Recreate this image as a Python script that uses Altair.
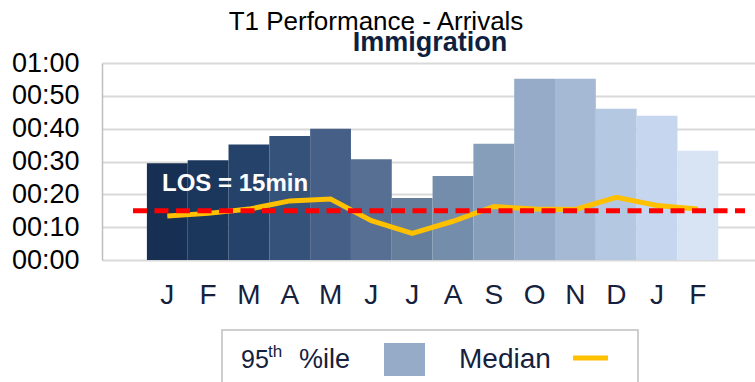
import altair as alt
import pandas as pd

# ---- data ----
month_labels = ["J", "F", "M", "A", "M", "J", "J", "A", "S", "O", "N", "D", "J", "F"]
p95_minutes = [29.5, 30.4, 35.2, 37.8, 40.0, 30.7, 18.9, 25.6, 35.4, 55.2, 55.2, 46.1, 43.9, 33.3]
median_minutes = [13.4, 14.2, 15.5, 18.0, 18.6, 12.0, 8.1, 11.8, 16.3, 15.5, 15.4, 19.1, 16.6, 15.5]
los_minutes = 15
y_ticks = [0, 10, 20, 30, 40, 50, 60]

title_main = "T1 Performance - Arrivals"
title_sub = "Immigration"
legend_p95 = ["95", "th", "%ile"]
legend_median = "Median"

# ---- styles ----
bar_colors = ["#172F52", "#1B375C", "#24426A", "#35527A", "#455F86", "#566F92", "#647E9C",
              "#748DAA", "#879EBB", "#95ABC8", "#A5B9D5", "#B5C8E2", "#C5D6EE", "#D8E3F3"]
FONT = "Liberation Sans"
NAVY = "#15213D"

df = pd.DataFrame({
    "idx": list(range(len(month_labels))),
    "p95": p95_minutes,
    "median": median_minutes,
})

label_array = "[" + ",".join("'" + m + "'" for m in month_labels) + "]"

x_enc = alt.X(
    "idx:O",
    scale=alt.Scale(paddingInner=0, paddingOuter=1.0, align=0.55),
    axis=alt.Axis(
        title=None, labelExpr=label_array + "[datum.value]", labelAngle=0,
        labelFontSize=28, labelFont=FONT, labelColor=NAVY, labelPadding=21,
        ticks=False, domain=False, grid=False, labelOverlap=False,
    ),
)
y_scale = alt.Scale(domain=[0, 60], nice=False)
y_axis = alt.Axis(
    title=None, values=y_ticks,
    labelExpr="(datum.value>=60?'01':'00')+':'+((datum.value%60)<10?'0':'')+(datum.value%60)",
    labelFontSize=27, labelFont=FONT, labelColor="#000000", labelPadding=23,
    labelOverlap=False, labelFlush=False, labelBound=False,
    ticks=False, domain=True, domainColor="#BFBFBF", domainWidth=1.5,
    grid=True, gridColor="#D9D9D9", gridWidth=2,
)

base = alt.Chart(df)

bars = base.mark_bar().encode(
    x=x_enc,
    y=alt.Y("p95:Q", scale=y_scale, axis=y_axis),
    color=alt.Color("idx:O", scale=alt.Scale(range=bar_colors), legend=None),
)

med_line = base.mark_line(color="#FFC000", strokeWidth=5).encode(
    x=x_enc, y=alt.Y("median:Q", scale=y_scale, axis=y_axis)
)

los_df = pd.DataFrame({"los": [los_minutes], "label": [f"LOS = {los_minutes}min"]})
los_rule = alt.Chart(los_df).mark_rule(
    color="#FF0000", strokeWidth=5, strokeDash=[14, 7.5]
).encode(y=alt.Y("los:Q", scale=y_scale, axis=y_axis), x=alt.value(31), x2=alt.value(643))

los_text = alt.Chart(los_df).mark_text(
    font=FONT, fontSize=24, fontWeight="bold", color="#FFFFFF", align="left", baseline="middle"
).encode(text="label:N", x=alt.value(60), y=alt.value(121))

# ---- titles ----
t_df = pd.DataFrame({"t": [title_main], "s": [title_sub]})
title1 = alt.Chart(t_df).mark_text(
    font=FONT, fontSize=26, color="#000000", align="center", baseline="alphabetic"
).encode(text="t:N", x=alt.value(274), y=alt.value(-33))
title2 = alt.Chart(t_df).mark_text(
    font=FONT, fontSize=27, fontWeight="bold", color="#0F1F40", align="center", baseline="alphabetic"
).encode(text="s:N", x=alt.value(328), y=alt.value(-12))

# ---- manual legend ----
leg_df = pd.DataFrame({"a": [legend_p95[0]], "b": [legend_p95[1]], "c": [legend_p95[2]], "m": [legend_median]})
leg_box = alt.Chart(leg_df).mark_rect(fillOpacity=0, stroke="#BFBFBF", strokeWidth=1.5).encode(
    x=alt.value(120), x2=alt.value(536), y=alt.value(267), y2=alt.value(340)
)
leg_95 = alt.Chart(leg_df).mark_text(font=FONT, fontSize=25, color=NAVY, align="left", baseline="alphabetic").encode(
    text="a:N", x=alt.value(139), y=alt.value(305))
leg_th = alt.Chart(leg_df).mark_text(font=FONT, fontSize=17, color=NAVY, align="left", baseline="alphabetic").encode(
    text="b:N", x=alt.value(166), y=alt.value(294))
leg_ile = alt.Chart(leg_df).mark_text(font=FONT, fontSize=27, color=NAVY, align="left", baseline="alphabetic").encode(
    text="c:N", x=alt.value(197), y=alt.value(305))
leg_swatch = alt.Chart(leg_df).mark_rect(color="#95ABC8").encode(
    x=alt.value(282), x2=alt.value(323), y=alt.value(280), y2=alt.value(313))
leg_med = alt.Chart(leg_df).mark_text(font=FONT, fontSize=28, color=NAVY, align="left", baseline="alphabetic").encode(
    text="m:N", x=alt.value(357), y=alt.value(305))
leg_line = alt.Chart(leg_df).mark_rule(color="#FFC000", strokeWidth=5).encode(
    x=alt.value(471), x2=alt.value(506), y=alt.value(295))

chart = alt.layer(
    bars, med_line, los_rule, los_text, title1, title2,
    leg_box, leg_95, leg_th, leg_ile, leg_swatch, leg_med, leg_line,
).properties(
    width=653, height=197,
    autosize=alt.AutoSizeParams(type="none"),
    padding={"left": 102, "top": 63, "right": 0, "bottom": 122},
    background="#FFFFFF",
).configure_view(stroke=None).configure_axis(labelOverlap=False)

chart.save("out.html", embed_options={"renderer": "svg", "actions": False})
